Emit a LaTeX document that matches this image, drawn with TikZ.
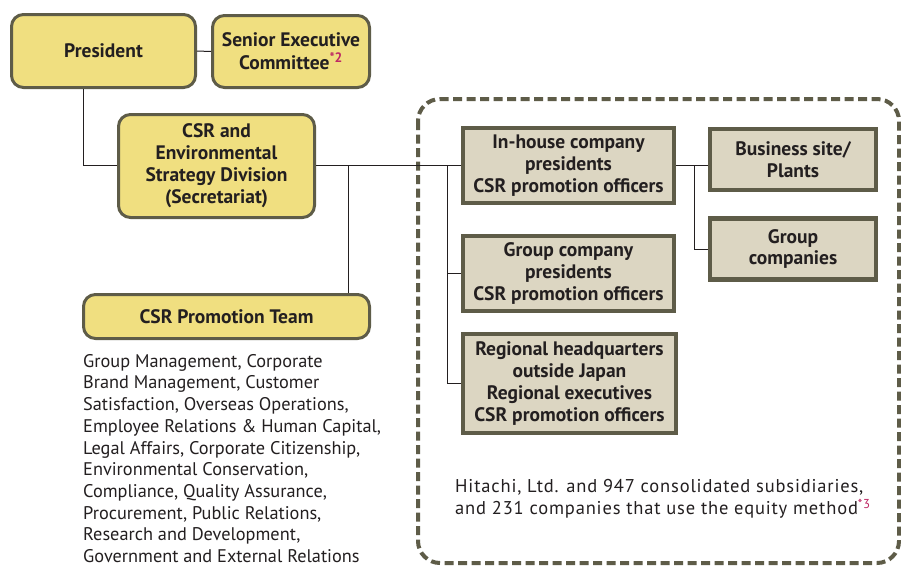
\documentclass[tikz,border=0pt]{standalone}
\usepackage{fontspec}
\setmainfont{PT Sans}
\newfontfamily\footfont[LetterSpace=4.5]{PT Sans}
\definecolor{yel}{RGB}{240,223,128}
\definecolor{beige}{RGB}{220,214,194}
\definecolor{bord}{RGB}{94,92,72}
\definecolor{txt}{RGB}{35,31,32}
\definecolor{mag}{RGB}{190,40,100}
\begin{document}
\begin{tikzpicture}[x=1pt,y=-1pt,
  ybox/.style={draw=bord, line width=3pt, fill=yel, rounded corners=12pt, text=txt,
    font=\bfseries\fontsize{19.5}{22}\selectfont, align=center, inner sep=0pt},
  gbox/.style={draw=bord, line width=4.5pt, fill=beige, text=txt,
    font=\bfseries\fontsize{19.5}{21.7}\selectfont, align=center, inner sep=0pt},
  conn/.style={line width=1pt, draw=txt},
  dashframe/.style={draw=bord, line width=4pt, dash pattern=on 9pt off 4.5pt, rounded corners=22pt},
  plain/.style={text=txt, font=\fontsize{18.3}{21.7}\selectfont, align=left, inner sep=0pt}
]
\useasboundingbox (0,0) rectangle (901,568);
\fill[white] (0,0) rectangle (901,568);

\draw[dashframe] (418,99) rectangle (899,563);

\node[ybox, minimum width=184pt, minimum height=73pt] (pres) at (103.5,51) {President};
\node[ybox, minimum width=157pt, minimum height=72pt] (sec) at (291,51.5) {Senior Executive\\[1pt]Committee\textcolor{mag}{\textsuperscript{*2}}};
\node[ybox, minimum width=196pt, minimum height=103pt] (csr) at (216.5,166) {CSR and\\Environmental\\Strategy Division\\(Secretariat)};
\node[ybox, minimum width=286pt, minimum height=44pt] (team) at (226.5,316.5) {CSR Promotion Team};

\node[gbox, minimum width=211pt, minimum height=75pt] (inh) at (568.5,165.5) {In-house company\\presidents\\CSR promotion officers};
\node[gbox, minimum width=211pt, minimum height=75pt] (grp) at (568.5,273.5) {Group company\\presidents\\CSR promotion officers};
\node[gbox, minimum width=213pt, minimum height=99pt] (reg) at (569.5,383.5) {Regional headquarters\\outside Japan\\Regional executives\\CSR promotion officers};
\node[gbox, minimum width=166pt, minimum height=61pt] (bus) at (793,159.5) {Business site/\\Plants};
\node[gbox, minimum width=166pt, minimum height=61pt] (gco) at (793,249) {Group\\companies};

\node[plain, anchor=north west] (list) at (83,354) {Group Management, Corporate\\Brand Management, Customer\\Satisfaction, Overseas Operations,\\Employee Relations \& Human Capital,\\Legal Affairs, Corporate Citizenship,\\Environmental Conservation,\\Compliance, Quality Assurance,\\Procurement, Public Relations,\\Research and Development,\\Government and External Relations};

\node[plain, anchor=north west, font=\footfont\fontsize{18.5}{22}\selectfont] (foot) at (455,479) {Hitachi, Ltd. and 947 consolidated subsidiaries,\\and 231 companies that use the equity method\textcolor{mag}{\textsuperscript{*3}}};

\coordinate (c1) at (83,165);
\coordinate (c2) at (348,165);
\coordinate (c3) at (447,165);
\coordinate (c4) at (694,165);

\draw[conn] (pres.east) -- (sec.west);
\draw[conn] (pres.south -| c1) -- (c1) -- (csr.west |- c1);
\draw[conn] (csr.east |- c1) -- (inh.west |- c1);
\draw[conn] (c2) -- (team.north -| c2);
\draw[conn] (c3) -- (c3 |- reg.west) -- (reg.west);
\draw[conn] (c3 |- grp.west) -- (grp.west);
\draw[conn] (inh.east |- c4) -- (bus.west |- c4);
\draw[conn] (c4) -- (c4 |- gco.west) -- (gco.west);
\end{tikzpicture}
\end{document}
